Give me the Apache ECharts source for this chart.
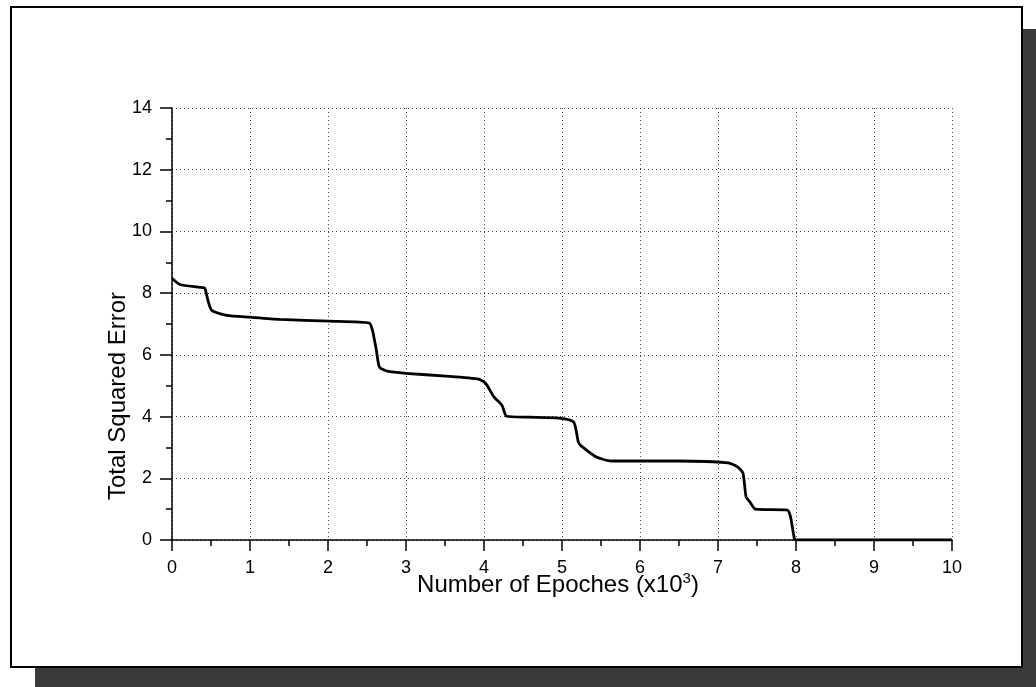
<!DOCTYPE html>
<html>
<head>
<meta charset="utf-8">
<script src="https://cdn.jsdelivr.net/npm/echarts@6/dist/echarts.min.js"></script>
<style>
html,body{margin:0;padding:0;background:#fff;}
#chart{width:1036px;height:687px;}
</style>
</head>
<body>
<div id="chart"></div>
<script>
// Epochs (x10^3) and total squared error
var epochs = [0, 0.1, 0.36, 0.42, 0.46, 0.51, 0.7, 1.0, 1.38, 2.02, 2.53, 2.57, 2.62, 2.66, 2.76, 3.0, 3.51, 3.93, 4.02, 4.13, 4.23, 4.29, 4.57, 4.96, 5.15, 5.21, 5.25, 5.44, 5.63, 5.98, 6.49, 7.13, 7.25, 7.32, 7.36, 7.41, 7.48, 7.89, 7.93, 7.98, 8.0, 9.0, 10.0];
var errors = [8.48, 8.28, 8.19, 8.16, 7.77, 7.44, 7.28, 7.22, 7.15, 7.09, 7.03, 6.8, 6.15, 5.6, 5.47, 5.4, 5.31, 5.21, 5.08, 4.63, 4.37, 4.01, 3.98, 3.95, 3.82, 3.17, 3.04, 2.69, 2.56, 2.56, 2.56, 2.5, 2.37, 2.17, 1.4, 1.23, 1.0, 0.97, 0.75, 0.03, 0, 0, 0];
var xTitle = 'Number of Epoches (x10';
var xTitleSup = '3';
var yTitle = 'Total Squared Error';

var points = epochs.map(function (e, i) { return [e, errors[i]]; });
var font = '"Liberation Sans", Arial, Helvetica, sans-serif';

var chart = echarts.init(document.getElementById('chart'), null, {renderer: 'canvas'});
chart.setOption({
  backgroundColor: '#ffffff',
  animation: false,
  grid: {left: 172, top: 108, right: 84, bottom: 147, containLabel: false},
  xAxis: {
    type: 'value', min: 0, max: 10, interval: 1,
    axisLine: {show: true, onZero: false, lineStyle: {color: '#000', width: 1.5}},
    axisTick: {show: true, inside: false, length: 11, lineStyle: {color: '#000', width: 1.5}},
    minorTick: {show: true, splitNumber: 2, length: 6, lineStyle: {color: '#000', width: 1.5}},
    axisLabel: {color: '#000', fontSize: 18, fontFamily: font, margin: 19},
    splitLine: {show: true, lineStyle: {color: '#444', width: 1, type: [1, 3]}}
  },
  yAxis: {
    type: 'value', min: 0, max: 14, interval: 2,
    axisLine: {show: true, onZero: false, lineStyle: {color: '#000', width: 1.5}},
    axisTick: {show: true, inside: false, length: 12, lineStyle: {color: '#000', width: 1.5}},
    minorTick: {show: true, splitNumber: 2, length: 6, lineStyle: {color: '#000', width: 1.5}},
    axisLabel: {color: '#000', fontSize: 18, fontFamily: font, margin: 20},
    splitLine: {show: true, lineStyle: {color: '#444', width: 1, type: [1, 3]}}
  },
  series: [{
    type: 'line',
    data: points,
    showSymbol: false,
    smooth: 0.2,
    lineStyle: {color: '#000', width: 2.8},
    z: 5
  }],
  graphic: [
    {type: 'rect', shape: {x: 11, y: 7, width: 1011, height: 660}, style: {fill: 'none', stroke: '#000', lineWidth: 2}, z: -1},
    {type: 'rect', shape: {x: 1023, y: 29, width: 13, height: 658}, style: {fill: '#3a3a3a'}, z: -1},
    {type: 'rect', shape: {x: 35, y: 668, width: 1001, height: 19}, style: {fill: '#3a3a3a'}, z: -1},
    {
      type: 'text', x: 118, y: 396, rotation: Math.PI / 2,
      style: {text: yTitle, fill: '#000', font: '24px ' + font, textAlign: 'center', textVerticalAlign: 'middle'}
    },
    {
      type: 'text', x: 558, y: 585,
      style: {
        text: '{a|' + xTitle + '}{s|' + xTitleSup + '}{a|)}',
        textAlign: 'center', textVerticalAlign: 'middle',
        rich: {
          a: {fontSize: 24, fontFamily: font, fill: '#000', color: '#000'},
          s: {fontSize: 15, fontFamily: font, color: '#000', fill: '#000', verticalAlign: 'top', padding: [0, 0, 12, 0]}
        }
      }
    }
  ]
});
</script>
</body>
</html>
